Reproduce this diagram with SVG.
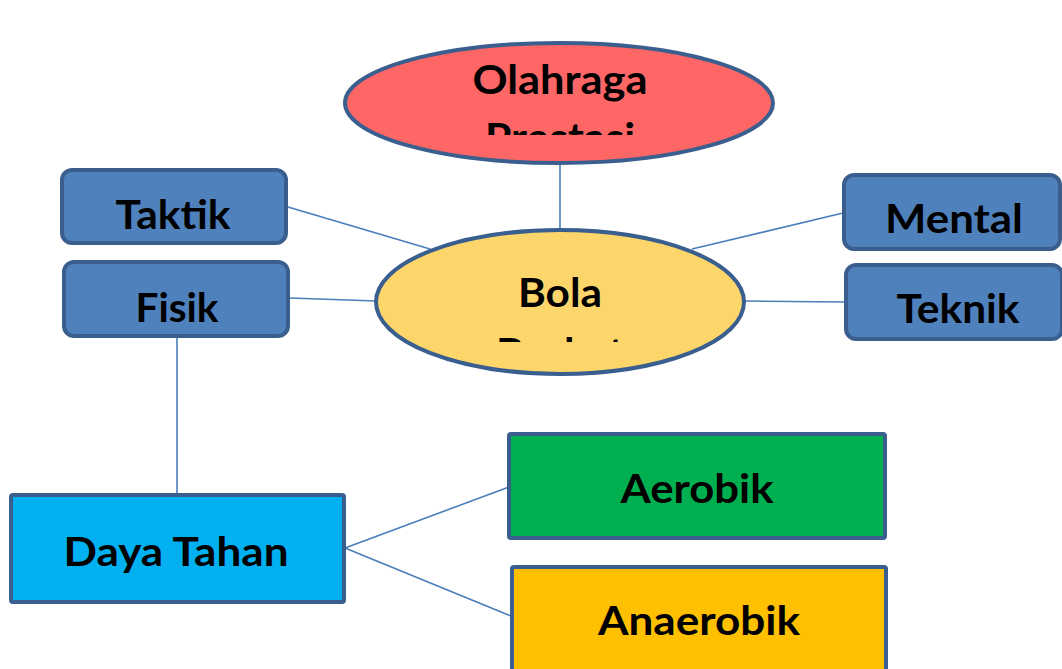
<svg xmlns="http://www.w3.org/2000/svg" width="1062" height="669" viewBox="0 0 1062 669">
<style>
.lbl{font-family:Lato,"Open Sans","Liberation Sans",sans-serif;font-weight:700;font-size:41px;fill:#000;text-anchor:middle}
.con{stroke:#4A7EBB;stroke-width:1.6;fill:none}
.node{stroke:#3A5F8F;stroke-width:4}
.blue{fill:#4F81BD}
</style>
<defs>
<clipPath id="cOl"><rect x="340" y="40" width="440" height="95"/></clipPath>
<clipPath id="cBo"><rect x="370" y="225" width="380" height="117"/></clipPath>
</defs>
<rect width="1062" height="669" fill="#fff"/>
<g id="connectors">
<line class="con" x1="560" y1="160" x2="560" y2="230"/>
<line class="con" x1="288" y1="207" x2="430" y2="249"/>
<line class="con" x1="843" y1="213" x2="692" y2="249"/>
<line class="con" x1="290" y1="298" x2="376" y2="301"/>
<line class="con" x1="744" y1="301" x2="845" y2="302"/>
<line class="con" x1="177" y1="337" x2="177" y2="495"/>
<line class="con" x1="345" y1="548" x2="509" y2="487"/>
<line class="con" x1="345" y1="548" x2="511" y2="616"/>
</g>
<g id="olahraga">
<ellipse class="node" cx="559" cy="103" rx="214" ry="60" fill="#FF6666"/>
<g clip-path="url(#cOl)">
<text class="lbl" x="560" y="94" textLength="175" lengthAdjust="spacingAndGlyphs">Olahraga</text>
<text class="lbl" x="560" y="152" textLength="150" lengthAdjust="spacingAndGlyphs">Prestasi</text>
</g>
</g>
<g id="bola">
<ellipse class="node" cx="560" cy="302" rx="184" ry="72" fill="#FCD66A" stroke-width="5"/>
<g clip-path="url(#cBo)">
<text class="lbl" x="560" y="307" textLength="84" lengthAdjust="spacingAndGlyphs">Bola</text>
<text class="lbl" x="560" y="367" textLength="128" lengthAdjust="spacingAndGlyphs">Basket</text>
</g>
</g>
<g id="taktik">
<rect class="node blue" x="62" y="170" width="224" height="73" rx="10"/>
<text class="lbl" x="173" y="229" textLength="115" lengthAdjust="spacingAndGlyphs">Taktik</text>
</g>
<g id="fisik">
<rect class="node blue" x="64" y="262" width="224" height="74" rx="10"/>
<text class="lbl" x="177" y="322" textLength="83" lengthAdjust="spacingAndGlyphs">Fisik</text>
</g>
<g id="mental">
<rect class="node blue" x="844" y="175" width="216" height="74" rx="10"/>
<text class="lbl" x="954" y="233" textLength="138" lengthAdjust="spacingAndGlyphs">Mental</text>
</g>
<g id="teknik">
<rect class="node blue" x="846" y="265" width="216" height="74" rx="10"/>
<text class="lbl" x="958" y="323" textLength="123" lengthAdjust="spacingAndGlyphs">Teknik</text>
</g>
<g id="daya-tahan">
<rect class="node" x="11" y="495" width="333" height="107" rx="2" fill="#00B0F0"/>
<text class="lbl" x="176" y="566" textLength="225" lengthAdjust="spacingAndGlyphs">Daya Tahan</text>
</g>
<g id="aerobik">
<rect class="node" x="509" y="434" width="376" height="104" rx="2" fill="#00B050"/>
<text class="lbl" x="697" y="503" textLength="153" lengthAdjust="spacingAndGlyphs">Aerobik</text>
</g>
<g id="anaerobik">
<rect class="node" x="512" y="567" width="374" height="110" rx="2" fill="#FFC000"/>
<text class="lbl" x="699" y="635" textLength="202" lengthAdjust="spacingAndGlyphs">Anaerobik</text>
</g>
</svg>
